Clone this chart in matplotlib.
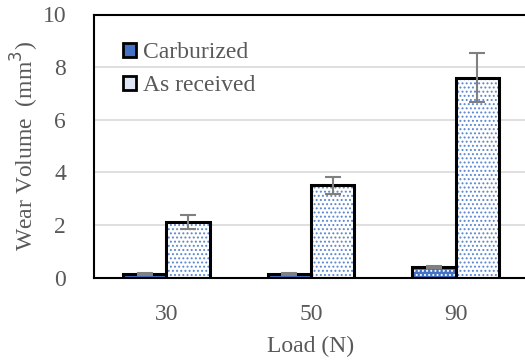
import matplotlib
matplotlib.use("Agg")
import matplotlib.pyplot as plt
import numpy as np
from matplotlib.patches import Patch

# Wear volume data (mm^3) at each applied load
loads = ["30", "50", "90"]
carburized = [0.12, 0.15, 0.40]
carburized_err = [0.04, 0.04, 0.05]
as_received = [2.1, 3.5, 7.6]
as_received_err = [0.26, 0.33, 0.94]
y_ticks = [0, 2, 4, 6, 8, 10]

BLUE = "#4472C4"
DOT_BLUE = "#5b86d0"
TEXT = "#595959"

plt.rcParams["font.family"] = ["Liberation Serif", "DejaVu Serif"]
plt.rcParams["hatch.linewidth"] = 0.9

fig = plt.figure(figsize=(5.25, 3.62), dpi=100)
ax = fig.add_axes([94 / 525, 84.5 / 362, 434 / 525, 263 / 362])

x = np.arange(len(loads))
w = 0.3

# Gridlines
ax.set_axisbelow(True)
ax.yaxis.grid(True, color="#d9d9d9", linewidth=1.2)

# Carburized: blue fill with white dots
ax.bar(x - w / 2, carburized, w, color=BLUE, edgecolor="white", hatch="....", linewidth=0, zorder=2)
ax.bar(x - w / 2, carburized, w, fill=False, edgecolor="black", linewidth=2.2, zorder=3)
# As received: white fill with blue dots
ax.bar(x + w / 2, as_received, w, color="white", edgecolor=DOT_BLUE, hatch="....", linewidth=0, zorder=2)
ax.bar(x + w / 2, as_received, w, fill=False, edgecolor="black", linewidth=2.2, zorder=3)

# Error bars
ax.errorbar(x - w / 2, carburized, yerr=carburized_err, fmt="none", ecolor="#808080",
            elinewidth=1.5, capsize=6, capthick=1.5, zorder=4)
ax.errorbar(x + w / 2, as_received, yerr=as_received_err, fmt="none", ecolor="#808080",
            elinewidth=1.5, capsize=6, capthick=1.5, zorder=4)

ax.set_xlim(-0.5, 2.5)
ax.set_ylim(0, 10)
ax.set_yticks(y_ticks)
ax.set_xticks(x)
ax.set_xticklabels(loads)

for s in ["left", "top", "bottom"]:
    ax.spines[s].set_color("black")
    ax.spines[s].set_linewidth(1.5)
ax.spines["right"].set_visible(False)

ax.tick_params(axis="both", length=0, labelsize=17, labelcolor=TEXT)
ax.tick_params(axis="y", pad=20)
ax.tick_params(axis="x", pad=19)

ax.set_xlabel("Load (N)", fontsize=17, color=TEXT, labelpad=8)
ax.set_ylabel("Wear Volume  (mm$^3$)", fontsize=17, color=TEXT, labelpad=1)

# Legend handles drawn as small framed squares
h1 = Patch(facecolor=BLUE, edgecolor="black", linewidth=2, label="Carburized")
h2 = Patch(facecolor="#dfe7f6", edgecolor="black", linewidth=2, label="As received")
leg = ax.legend(handles=[h1, h2], loc="upper left", bbox_to_anchor=(0.045, 0.93),
                frameon=False, fontsize=17, handlelength=0.55, handleheight=0.55,
                handletextpad=0.3, labelspacing=0.5, borderaxespad=0)
for t in leg.get_texts():
    t.set_color(TEXT)

fig.savefig("out.png", dpi=100)
